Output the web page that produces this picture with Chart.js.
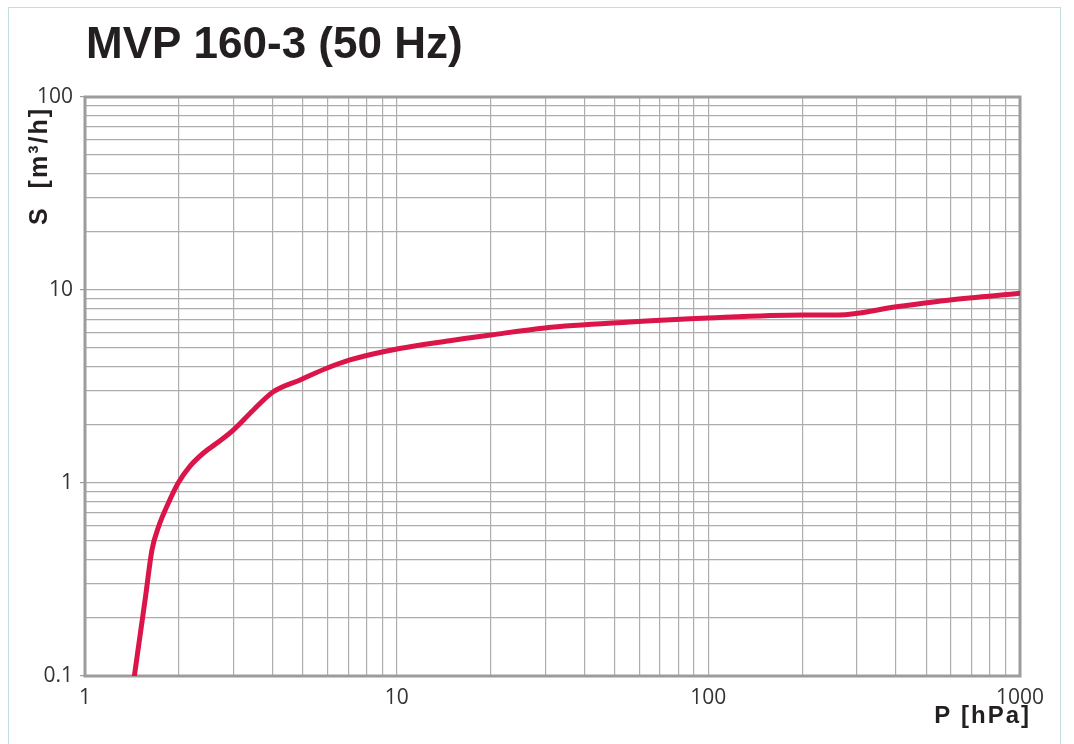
<!DOCTYPE html>
<html>
<head>
<meta charset="utf-8">
<title>MVP 160-3 (50 Hz)</title>
<script src="https://cdn.jsdelivr.net/npm/chart.js@4.4.1/dist/chart.umd.min.js"></script>
<style>
    html, body { margin: 0; padding: 0; background: #ffffff; }
    .wrap { position: relative; width: 1074px; height: 744px; overflow: hidden; }
    .frame { position: absolute; left: 8px; top: 7px; width: 1053px; height: 800px; border: 1px solid #c3dede; box-sizing: border-box; }
    canvas { position: absolute; left: 0; top: 0; }
</style>
</head>
<body>
<div class="wrap">
    <div class="frame"></div>
    <canvas id="pumpChart" width="1074" height="744"></canvas>
</div>
<script>
// pumping speed curve
const pressure = [1.44, 1.56, 1.64, 1.72, 1.85, 1.99, 2.17, 2.4, 2.65, 2.99, 3.47, 4.02, 4.9, 5.96, 7.08, 9.06, 14.8, 20.1, 29.9, 56, 100, 201, 261, 402, 596, 1000];
const speed    = [0.1, 0.25, 0.45, 0.59, 0.785, 1.0, 1.22, 1.43, 1.61, 1.88, 2.39, 2.97, 3.42, 3.93, 4.34, 4.79, 5.46, 5.85, 6.36, 6.82, 7.16, 7.42, 7.42, 8.19, 8.88, 9.61];

const xDecades = [1, 10, 100, 1000];
const xTickLabels = ["1", "10", "100", "1000"];
const yDecades = [0.1, 1, 10, 100];
const yTickLabels = ["0.1", "1", "10", "100"];

const chartTitle = "MVP 160-3 (50 Hz)";
const xTitle = "P [hPa]";
const yTitle = "S  [m\u00B3/h]";

// grid lines at 1..9 of every decade
function gridValues(decades) {
    const out = [];
    decades.forEach((d, i) => {
        if (i === decades.length - 1) { out.push(d); return; }
        for (let m = 1; m <= 9; m++) out.push(+(d * m).toPrecision(6));
    });
    return out;
}

function labelFor(values, labels) {
    return (value) => {
        const i = values.findIndex(v => Math.abs(v - value) < 1e-9);
        return i >= 0 ? labels[i] : "";
    };
}

const textPlugin = {
    id: "textPlugin",
    beforeDatasetsDraw(chart) {
        const { ctx, chartArea } = chart;
        ctx.save();
        ctx.strokeStyle = "#9c9c9c";
        ctx.lineWidth = 3;
        ctx.strokeRect(chartArea.left, chartArea.top, chartArea.right - chartArea.left, chartArea.bottom - chartArea.top);
        ctx.restore();
    },
    afterDraw(chart) {
        const { ctx } = chart;
        ctx.save();
        ctx.fillStyle = "#231f20";

        ctx.font = "bold 44px 'Liberation Sans', Arial, sans-serif";
        ctx.textAlign = "left";
        ctx.textBaseline = "alphabetic";
        ctx.fillText(chartTitle, 86, 58);

        ctx.font = "bold 24px 'Liberation Sans', Arial, sans-serif";
        ctx.letterSpacing = "2px";
        ctx.textAlign = "right";
        ctx.textBaseline = "middle";
        ctx.fillText(xTitle, 1031, 716);

        ctx.font = "bold 25px 'Liberation Sans', Arial, sans-serif";
        ctx.translate(40, 166);
        ctx.rotate(-Math.PI / 2);
        ctx.textAlign = "center";
        ctx.fillText(yTitle, 0, 0);
        ctx.restore();
    }
};

const ctx = document.getElementById("pumpChart");

new Chart(ctx, {
    type: "line",
    data: {
        datasets: [{
            data: pressure.map((p, i) => ({ x: p, y: speed[i] })),
            borderColor: "#db1549",
            borderWidth: 5,
            pointRadius: 0,
            fill: false,
            cubicInterpolationMode: "monotone",
            borderCapStyle: "round",
            borderJoinStyle: "round"
        }]
    },
    options: {
        responsive: false,
        animation: false,
        devicePixelRatio: 1,
        layout: { padding: { left: 0, top: 97, right: 54, bottom: 0 } },
        plugins: {
            legend: { display: false },
            tooltip: { enabled: false }
        },
        scales: {
            x: {
                type: "logarithmic",
                min: 1,
                max: 1000,
                afterBuildTicks: (scale) => { scale.ticks = gridValues(xDecades).map(v => ({ value: v })); },
                afterFit: (scale) => { scale.height = 68; },
                border: { display: false },
                grid: {
                    color: "#adadad",
                    lineWidth: 1.2,
                    drawTicks: false
                },
                ticks: {
                    autoSkip: false,
                    maxRotation: 0,
                    padding: 9,
                    color: "#333333",
                    font: { family: "'Open Sans', sans-serif", size: 21 },
                    callback: labelFor(xDecades, xTickLabels)
                }
            },
            y: {
                type: "logarithmic",
                min: 0.1,
                max: 100,
                afterBuildTicks: (scale) => { scale.ticks = gridValues(yDecades).map(v => ({ value: v })); },
                afterFit: (scale) => { scale.width = 85; },
                border: { display: false },
                grid: {
                    color: "#adadad",
                    lineWidth: 1.2,
                    drawTicks: true,
                    tickLength: 5,
                    tickColor: (c) => (c.tick && yDecades.some(v => Math.abs(v - c.tick.value) < 1e-9)) ? "#9c9c9c" : "rgba(0,0,0,0)"
                },
                ticks: {
                    autoSkip: false,
                    padding: 7,
                    color: "#333333",
                    font: { family: "'Open Sans', sans-serif", size: 21 },
                    callback: labelFor(yDecades, yTickLabels)
                }
            }
        }
    },
    plugins: [textPlugin]
});
</script>
</body>
</html>
